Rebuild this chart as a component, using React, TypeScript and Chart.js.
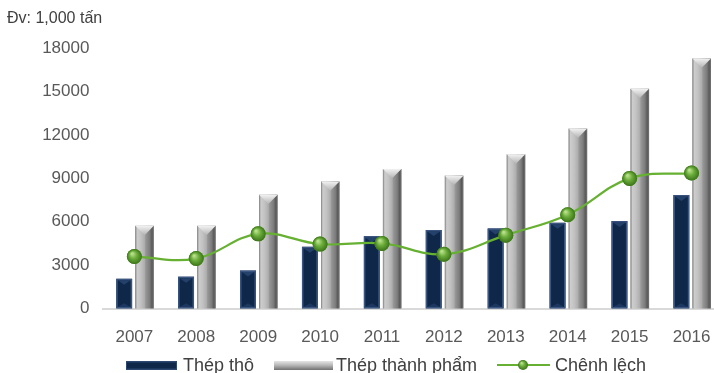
import React, { useEffect, useRef } from 'react';
import { Chart, registerables } from 'chart.js';

Chart.register(...registerables);

const years = ['2007', '2008', '2009', '2010', '2011', '2012', '2013', '2014', '2015', '2016'];
const thepTho = [2050, 2200, 2620, 4260, 5000, 5420, 5530, 5920, 6040, 7840];
const thepThanhPham = [5710, 5710, 7860, 8780, 9640, 9180, 10650, 12430, 15180, 17280];
const chenhLech = [3590, 3450, 5160, 4450, 4500, 3750, 5070, 6480, 8990, 9360];
const yMin = 0;
const yMax = 18000;
const yStep = 3000;
const unitLabel = 'Đv: 1,000 tấn';
const seriesNames = ['Thép thô', 'Thép thành phẩm', 'Chênh lệch'];

const FONT = '"Liberation Sans", Arial, sans-serif';
const NAVY = '#10284c';
const GRAY = '#a8a8a8';
const GREEN = '#66b032';

function drawNavyBar(ctx: CanvasRenderingContext2D, left: number, top: number, w: number, bottom: number) {
  const h = bottom - top;
  if (h <= 0) return;
  ctx.fillStyle = '#3a5680';
  ctx.fillRect(left, top, w, h);
  ctx.fillStyle = '#0f2748';
  ctx.fillRect(left + 1.5, top + 1.5, w - 3, h - 3);
  const bev = Math.min((w - 3) * 0.35, h / 2);
  ctx.beginPath();
  ctx.moveTo(left + 1.5, top + 1.5);
  ctx.lineTo(left + w - 1.5, top + 1.5);
  ctx.lineTo(left + w / 2, top + 1.5 + bev);
  ctx.closePath();
  ctx.fillStyle = '#24416b';
  ctx.fill();
  ctx.beginPath();
  ctx.moveTo(left + 1.5, bottom - 1.5);
  ctx.lineTo(left + w - 1.5, bottom - 1.5);
  ctx.lineTo(left + w / 2, bottom - 1.5 - Math.min((w - 3) * 0.3, h / 2));
  ctx.closePath();
  ctx.fillStyle = '#1d3860';
  ctx.fill();
}

function drawGrayBar(ctx: CanvasRenderingContext2D, left: number, top: number, w: number, bottom: number) {
  const h = bottom - top;
  if (h <= 0) return;
  const g = ctx.createLinearGradient(left, 0, left + w, 0);
  g.addColorStop(0, '#7e7e7e');
  g.addColorStop(0.1, '#cdcdcd');
  g.addColorStop(0.3, '#c2c2c2');
  g.addColorStop(0.5, '#adadad');
  g.addColorStop(0.56, '#979797');
  g.addColorStop(0.78, '#7c7c7c');
  g.addColorStop(0.9, '#5a5a5a');
  g.addColorStop(1, '#747474');
  ctx.fillStyle = g;
  ctx.fillRect(left, top, w, h);
  const tg = ctx.createLinearGradient(0, top, 0, top + w * 0.5);
  tg.addColorStop(0, '#f2f2f2');
  tg.addColorStop(1, '#b4b4b4');
  ctx.beginPath();
  ctx.moveTo(left, top);
  ctx.lineTo(left + w, top);
  ctx.lineTo(left + w / 2, top + w * 0.5);
  ctx.closePath();
  ctx.fillStyle = tg;
  ctx.fill();
}

function drawSphere(ctx: CanvasRenderingContext2D, x: number, y: number, r: number) {
  const g = ctx.createRadialGradient(x - r * 0.3, y - r * 0.4, r * 0.1, x, y, r);
  g.addColorStop(0, '#b8e08a');
  g.addColorStop(0.45, '#6cad3c');
  g.addColorStop(1, '#3b7419');
  ctx.beginPath();
  ctx.arc(x, y, r, 0, Math.PI * 2);
  ctx.fillStyle = g;
  ctx.fill();
}

const decoPlugin = {
  id: 'deco',
  afterDatasetDraw(chart: any, args: any) {
    const ctx: CanvasRenderingContext2D = chart.ctx;
    const meta = args.meta;
    ctx.save();
    if (meta.type === 'bar') {
      meta.data.forEach((el: any) => {
        const { x, y, width, base } = el.getProps(['x', 'y', 'width', 'base'], true);
        const left = x - width / 2;
        if (args.index === 0) drawNavyBar(ctx, left, y, width, base);
        else drawGrayBar(ctx, left, y, width, base);
      });
    } else if (meta.type === 'line') {
      meta.data.forEach((el: any) => {
        drawSphere(ctx, el.x, el.y, 7.5);
      });
    }
    ctx.restore();
  },
  afterDraw(chart: any) {
    const ctx: CanvasRenderingContext2D = chart.ctx;
    ctx.save();
    ctx.font = `16px ${FONT}`;
    ctx.fillStyle = '#404040';
    ctx.textAlign = 'left';
    ctx.textBaseline = 'middle';
    ctx.fillText(unitLabel, 7, 19);

    ctx.font = `18px ${FONT}`;
    ctx.textBaseline = 'alphabetic';
    const baseY = 371;
    const boxTop = 361;
    // navy legend box
    ctx.fillStyle = '#2c4870';
    ctx.fillRect(126, boxTop, 51, 9);
    ctx.fillStyle = '#0f2748';
    ctx.fillRect(127, boxTop + 1.5, 49, 6);
    ctx.fillStyle = '#404040';
    ctx.fillText(seriesNames[0], 183, baseY);
    // gray legend box
    const gg = ctx.createLinearGradient(0, boxTop, 0, boxTop + 9);
    gg.addColorStop(0, '#e6e6e6');
    gg.addColorStop(0.5, '#b4b4b4');
    gg.addColorStop(1, '#707070');
    ctx.fillStyle = gg;
    ctx.fillRect(274, boxTop, 59, 9);
    ctx.fillStyle = '#404040';
    ctx.fillText(seriesNames[1], 336, baseY);
    // line legend
    ctx.strokeStyle = GREEN;
    ctx.lineWidth = 2;
    ctx.beginPath();
    ctx.moveTo(497, 365);
    ctx.lineTo(550, 365);
    ctx.stroke();
    drawSphere(ctx, 523, 365, 5);
    ctx.fillStyle = '#404040';
    ctx.fillText(seriesNames[2], 555, baseY);
    ctx.restore();
  },
};

export default function App() {
  const ref = useRef<HTMLCanvasElement | null>(null);

  useEffect(() => {
    if (!ref.current) return;
    const chart = new Chart(ref.current, {
      type: 'bar',
      data: {
        labels: years,
        datasets: [
          {
            type: 'bar',
            label: seriesNames[0],
            data: thepTho,
            backgroundColor: NAVY,
            borderWidth: 0,
            barPercentage: 0.78,
            categoryPercentage: 0.658,
            order: 1,
          },
          {
            type: 'bar',
            label: seriesNames[1],
            data: thepThanhPham,
            backgroundColor: GRAY,
            borderWidth: 0,
            barPercentage: 0.91,
            categoryPercentage: 0.658,
            order: 1,
          },
          {
            type: 'line',
            label: seriesNames[2],
            data: chenhLech,
            borderColor: GREEN,
            borderWidth: 2.2,
            tension: 0.4,
            pointRadius: 7.5,
            pointBackgroundColor: '#5c9e30',
            pointBorderWidth: 0,
            order: 0,
          } as any,
        ],
      },
      options: {
        responsive: false,
        animation: false,
        layout: { padding: { top: 48, left: 0, right: 4, bottom: 0 } },
        plugins: {
          legend: { display: false },
          tooltip: { enabled: false },
          title: { display: false },
        },
        scales: {
          x: {
            grid: { display: false },
            border: { display: true, color: '#d9d9d9', width: 2 },
            ticks: {
              color: '#595959',
              font: { size: 17, family: FONT },
              padding: 11,
              maxRotation: 0,
            },
            afterFit(scale: any) {
              scale.height = 64.5;
            },
          },
          y: {
            min: yMin,
            max: yMax,
            grid: { display: false },
            border: { display: false },
            ticks: {
              stepSize: yStep,
              color: '#595959',
              font: { size: 17, family: FONT },
              padding: 6,
              callback: (v: any) => String(v),
            },
            afterFit(scale: any) {
              scale.width = 103.4;
            },
          },
        },
      },
      plugins: [decoPlugin],
    });
    return () => chart.destroy();
  }, []);

  return (
    <div style={{ position: 'fixed', left: 0, top: 0, width: 714, height: 373, overflow: 'hidden', background: '#fff' }}>
      <canvas ref={ref} width={730} height={373} style={{ display: 'block' }} />
    </div>
  );
}
